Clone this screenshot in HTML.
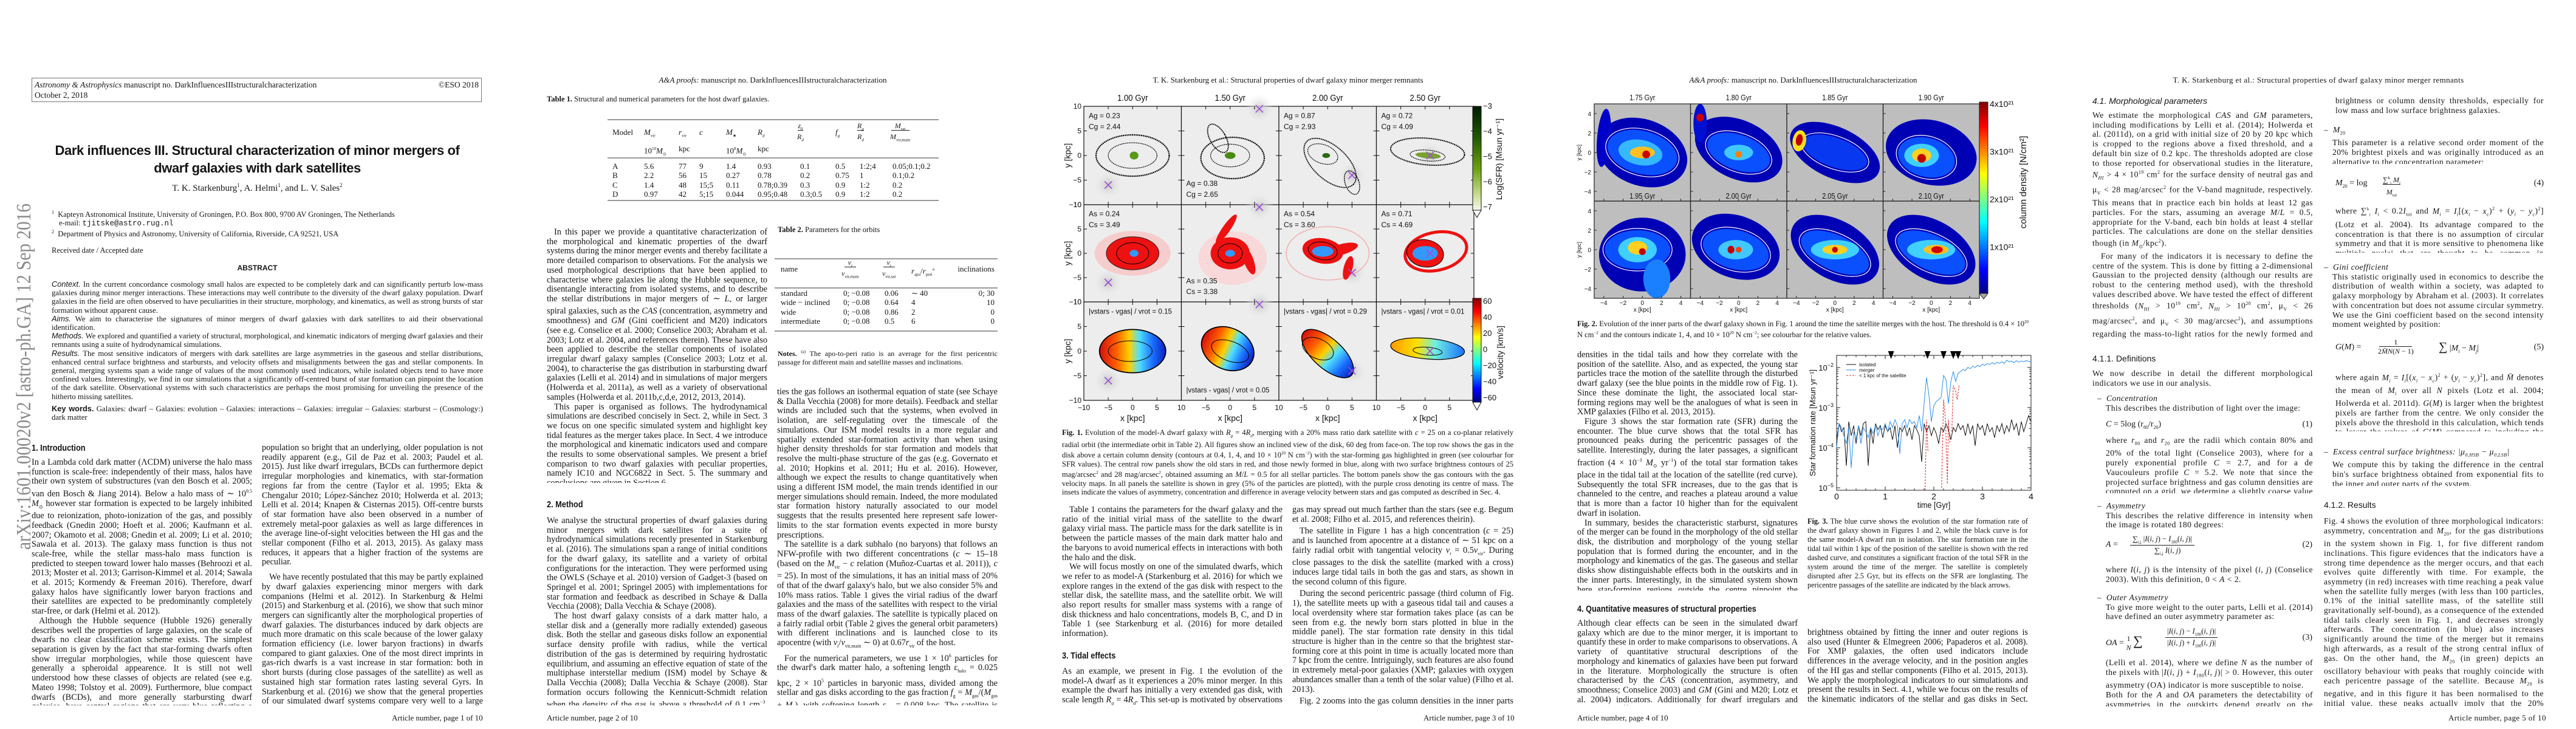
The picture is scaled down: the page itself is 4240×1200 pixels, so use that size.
<!DOCTYPE html>
<html lang="en"><head><meta charset="utf-8">
<style>
body{margin:0;width:4240px;height:1200px;background:#fff;position:relative;overflow:hidden;font-family:"Liberation Serif",serif;color:#151515}
.a{position:absolute}
.t{position:absolute;font-size:14.3px;line-height:15.7px;text-align:justify;overflow:hidden}
.t p{margin:0;text-indent:12px}
.t p.ni{text-indent:0}
.h{position:absolute;font-family:"Liberation Sans",sans-serif;font-weight:bold;font-size:15px;transform:scaleX(.85);transform-origin:left;white-space:nowrap}
.run{position:absolute;font-size:13px;text-align:center;width:848px;top:124px}
.foot{position:absolute;font-size:13px;top:1174px}
.cap{position:absolute;font-size:12.5px;line-height:14.4px;text-align:justify}
.p5{position:absolute;font-size:13.6px;line-height:15.7px;text-align:justify;letter-spacing:.45px;overflow:hidden}
.p5 p{margin:0;text-indent:14px}
.p5 .ni{text-indent:0}
.sh{position:absolute;font-family:"Liberation Sans",sans-serif;font-size:14px}
.eq{position:absolute;font-size:14px;font-style:italic}
.eqn{position:absolute;font-size:14px}
i{font-style:italic}
</style></head>
<body>
<svg id="figs" style="position:absolute;left:0;top:0" width="4240" height="1200" xmlns="http://www.w3.org/2000/svg">
<defs>
<linearGradient id="jetV" x1="0" y1="0" x2="0" y2="1"><stop offset="0" stop-color="#7f0000"/><stop offset=".125" stop-color="#ff0000"/><stop offset=".375" stop-color="#ffff00"/><stop offset=".625" stop-color="#00ffff"/><stop offset=".875" stop-color="#0000ff"/><stop offset="1" stop-color="#00007f"/></linearGradient>
<linearGradient id="velH" x1="0" y1="0" x2="1" y2="0"><stop offset="0" stop-color="#d01010"/><stop offset=".25" stop-color="#ff5a00"/><stop offset=".45" stop-color="#ffd000"/><stop offset=".6" stop-color="#50e0ff"/><stop offset=".8" stop-color="#1a70ff"/><stop offset="1" stop-color="#0a20c0"/></linearGradient>
<linearGradient id="velH2" x1="0" y1="0" x2="1" y2="0"><stop offset="0" stop-color="#ff9a00"/><stop offset=".35" stop-color="#ffe000"/><stop offset=".6" stop-color="#70f0e0"/><stop offset="1" stop-color="#1a70ff"/></linearGradient>
<linearGradient id="sfrV" x1="0" y1="0" x2="0" y2="1"><stop offset="0" stop-color="#001a00"/><stop offset=".3" stop-color="#1f5a00"/><stop offset=".6" stop-color="#6aa010"/><stop offset=".85" stop-color="#c8dc90"/><stop offset="1" stop-color="#f6f8ec"/></linearGradient>
<radialGradient id="satG"><stop offset="0" stop-color="#c8c8c8"/><stop offset="1" stop-color="#ececec" stop-opacity="0"/></radialGradient>
</defs>
</svg>

<!-- ============ PAGE 1 ============ -->
<svg style="position:absolute;left:0;top:330px" width="70" height="600"><text x="-575" y="50" transform="rotate(-90)" font-family="Liberation Serif" font-size="34" fill="#8a8a8a" textLength="570" lengthAdjust="spacingAndGlyphs">arXiv:1601.00020v2  [astro-ph.GA]  12 Sep 2016</text></svg>
<div style="position:absolute;left:52px;top:128px;width:741px;height:40px;border:1px solid #777;font-size:13.5px;line-height:17px;padding:2px 4px;box-sizing:border-box">
<span style="float:right">©ESO 2018</span><i>Astronomy &amp; Astrophysics</i> manuscript no. DarkInfluencesIIIstructuralcharacterization<br>October 2, 2018</div>
<div style="position:absolute;left:52px;top:233px;width:743px;text-align:center;font-family:'Liberation Sans',sans-serif;font-weight:bold;font-size:22px;line-height:29px;letter-spacing:-.4px">Dark influences III. Structural characterization of minor mergers of<br>dwarf galaxies with dark satellites</div>
<div style="position:absolute;left:52px;top:300px;width:743px;text-align:center;font-size:15px">T. K. Starkenburg<sup style="font-size:9px">1</sup>, A. Helmi<sup style="font-size:9px">1</sup>, and L. V. Sales<sup style="font-size:9px">2</sup></div>
<div style="position:absolute;left:85px;top:343px;font-size:12.5px;line-height:14px">
<div><sup style="font-size:8px">1</sup>&nbsp; Kapteyn Astronomical Institute, University of Groningen, P.O. Box 800, 9700 AV Groningen, The Netherlands</div>
<div style="padding-left:12px">e-mail: <span style="font-family:'Liberation Mono',monospace">tjitske@astro.rug.nl</span></div>
<div><sup style="font-size:8px">2</sup>&nbsp; Department of Physics and Astronomy, University of California, Riverside, CA 92521, USA</div>
<div style="margin-top:13px">Received date / Accepted date</div></div>
<div style="position:absolute;left:52px;top:434px;width:743px;text-align:center;font-family:'Liberation Sans',sans-serif;font-weight:bold;font-size:12px">ABSTRACT</div>
<div class="t" style="left:85px;top:461px;width:710px;font-size:12.8px;line-height:14.2px">
<p class="ni"><i style="font-family:'Liberation Sans'">Context.</i> In the current concordance cosmology small halos are expected to be completely dark and can significantly perturb low-mass galaxies during minor merger interactions. These interactions may well contribute to the diversity of the dwarf galaxy population. Dwarf galaxies in the field are often observed to have peculiarities in their structure, morphology, and kinematics, as well as strong bursts of star formation without apparent cause.</p>
<p class="ni"><i style="font-family:'Liberation Sans'">Aims.</i> We aim to characterise the signatures of minor mergers of dwarf galaxies with dark satellites to aid their observational identification.</p>
<p class="ni"><i style="font-family:'Liberation Sans'">Methods.</i> We explored and quantified a variety of structural, morphological, and kinematic indicators of merging dwarf galaxies and their remnants using a suite of hydrodynamical simulations.</p>
<p class="ni"><i style="font-family:'Liberation Sans'">Results.</i> The most sensitive indicators of mergers with dark satellites are large asymmetries in the gaseous and stellar distributions, enhanced central surface brightness and starbursts, and velocity offsets and misalignments between the gas and stellar components. In general, merging systems span a wide range of values of the most commonly used indicators, while isolated objects tend to have more confined values. Interestingly, we find in our simulations that a significantly off-centred burst of star formation can pinpoint the location of the dark satellite. Observational systems with such characteristics are perhaps the most promising for unveiling the presence of the hitherto missing satellites.</p>
<p class="ni" style="margin-top:6px"><b style="font-family:'Liberation Sans'">Key words.</b> Galaxies: dwarf – Galaxies: evolution – Galaxies: interactions – Galaxies: irregular – Galaxies: starburst – (Cosmology:) dark matter</p></div>
<div class="h" style="left:52px;top:729px">1. Introduction</div>
<div class="t" style="left:52px;top:754px;width:363px;height:407px">
<p class="ni">In a Lambda cold dark matter (ΛCDM) universe the halo mass function is scale-free: independently of their mass, halos have their own system of substructures (van den Bosch et al. 2005; van den Bosch &amp; Jiang 2014). Below a halo mass of ∼ 10<sup style="font-size:8px">9.5</sup> <i>M</i><sub style="font-size:8px">⊙</sub> however star formation is expected to be largely inhibited due to reionization, photo-ionization of the gas, and possibly feedback (Gnedin 2000; Hoeft et al. 2006; Kaufmann et al. 2007; Okamoto et al. 2008; Gnedin et al. 2009; Li et al. 2010; Sawala et al. 2013). The galaxy mass function is thus not scale-free, while the stellar mass-halo mass function is predicted to steepen toward lower halo masses (Behroozi et al. 2013; Moster et al. 2013; Garrison-Kimmel et al. 2014; Sawala et al. 2015; Kormendy &amp; Freeman 2016). Therefore, dwarf galaxy halos have significantly lower baryon fractions and their satellites are expected to be predominantly completely star-free, or dark (Helmi et al. 2012).</p>
<p>Although the Hubble sequence (Hubble 1926) generally describes well the properties of large galaxies, on the scale of dwarfs no clear classification scheme exists. The simplest separation is given by the fact that star-forming dwarfs often show irregular morphologies, while those quiescent have generally a spheroidal appearence. It is still not well understood how these classes of objects are related (see e.g. Mateo 1998; Tolstoy et al. 2009). Furthermore, blue compact dwarfs (BCDs), and more generally starbursting dwarf galaxies, have central regions that are very blue reflecting a centrally concentrated young stellar</p></div>
<div class="t" style="left:431px;top:730px;width:364px;height:431px">
<p class="ni">population so bright that an underlying, older population is not readily apparent (e.g., Gil de Paz et al. 2003; Paudel et al. 2015). Just like dwarf irregulars, BCDs can furthermore depict irregular morphologies and kinematics, with star-formation regions far from the centre (Taylor et al. 1995; Ekta &amp; Chengalur 2010; López-Sánchez 2010; Holwerda et al. 2013; Lelli et al. 2014; Knapen &amp; Cisternas 2015). Off-centre bursts of star formation have also been observed in a number of extremely metal-poor galaxies as well as large differences in the average line-of-sight velocities between the HI gas and the stellar component (Filho et al. 2013, 2015). As galaxy mass reduces, it appears that a higher fraction of the systems are peculiar.</p>
<p style="margin-top:9px">We have recently postulated that this may be partly explained by dwarf galaxies experiencing minor mergers with dark companions (Helmi et al. 2012). In Starkenburg &amp; Helmi (2015) and Starkenburg et al. (2016), we show that such minor mergers can significantly alter the morphological properties of dwarf galaxies. The disturbances induced by dark objects are much more dramatic on this scale because of the lower galaxy formation efficiency (i.e. lower baryon fractions) in dwarfs compared to giant galaxies. One of the most direct imprints in gas-rich dwarfs is a vast increase in star formation: both in short bursts (during close passages of the satellite) as well as sustained high star formation rates lasting several Gyrs. In Starkenburg et al. (2016) we show that the general properties of our simulated dwarf systems compare very well to a large sample of dwarf irregular galaxies and blue compact dwarfs from the literature.</p></div>
<div class="foot" style="left:645px">Article number, page 1 of 10</div>

<!-- ============ PAGE 2 ============ -->
<div class="run" style="left:848px"><i>A&amp;A proofs:</i> manuscript no. DarkInfluencesIIIstructuralcharacterization</div>
<div style="position:absolute;left:900px;top:156px;font-size:12.5px"><b>Table 1.</b> Structural and numerical parameters for the host dwarf galaxies.</div>
<div id="tab1" style="position:absolute;left:0;top:0"></div>
<div style="position:absolute;left:1280px;top:371px;font-size:12.5px"><b>Table 2.</b> Parameters for the orbits</div>
<div id="tab2" style="position:absolute;left:0;top:0"></div>
<div class="cap" style="left:1280px;top:572px;width:362px;font-size:12px"><b>Notes.</b> <sup style="font-size:7px">(a)</sup> The apo-to-peri ratio is an average for the first pericentric passage for different main and satellite masses and inclinations.</div>
<div class="t" style="left:900px;top:375px;width:363px;height:420px">
<p>In this paper we provide a quantitative characterization of the morphological and kinematic properties of the dwarf systems during the minor merger events and thereby facilitate a more detailed comparison to observations. For the analysis we used morphological descriptions that have been applied to characterise where galaxies lie along the Hubble sequence, to disentangle interacting from isolated systems, and to describe the stellar distributions in major mergers of ∼ <i>L</i><sub style="font-size:8px">*</sub> or larger spiral galaxies, such as the <i>CAS</i> (concentration, asymmetry and smoothness) and <i>GM</i> (Gini coefficient and M20) indicators (see e.g. Conselice et al. 2000; Conselice 2003; Abraham et al. 2003; Lotz et al. 2004, and references therein). These have also been applied to describe the stellar components of isolated irregular dwarf galaxy samples (Conselice 2003; Lotz et al. 2004), to characterise the gas distribution in starbursting dwarf galaxies (Lelli et al. 2014) and in simulations of major mergers (Holwerda et al. 2011a), as well as a variety of observational samples (Holwerda et al. 2011b,c,d,e, 2012, 2013, 2014).</p>
<p>This paper is organised as follows. The hydrodynamical simulations are described concisely in Sect. 2, while in Sect. 3 we focus on one specific simulated system and highlight key tidal features as the merger takes place. In Sect. 4 we introduce the morphological and kinematic indicators used and compare the results to some observational samples. We present a brief comparison to two dwarf galaxies with peculiar properties, namely IC10 and NGC6822 in Sect. 5. The summary and conclusions are given in Section 6.</p></div>
<div class="h" style="left:900px;top:822px">2. Method</div>
<div class="t" style="left:900px;top:850px;width:363px;height:311px">
<p class="ni">We analyse the structural properties of dwarf galaxies during minor mergers with dark satellites for a suite of hydrodynamical simulations recently presented in Starkenburg et al. (2016). The simulations span a range of initial conditions for the dwarf galaxy, its satellite and a variety of orbital configurations for the interaction. They were performed using the OWLS (Schaye et al. 2010) version of Gadget-3 (based on Springel et al. 2001; Springel 2005) with implementations for star formation and feedback as described in Schaye &amp; Dalla Vecchia (2008); Dalla Vecchia &amp; Schaye (2008).</p>
<p>The host dwarf galaxy consists of a dark matter halo, a stellar disk and a (generally more radially extended) gaseous disk. Both the stellar and gaseous disks follow an exponential surface density profile with radius, while the vertical distribution of the gas is determined by requiring hydrostatic equilibrium, and assuming an effective equation of state of the multiphase interstellar medium (ISM) model by Schaye &amp; Dalla Vecchia (2008); Dalla Vecchia &amp; Schaye (2008). Star formation occurs following the Kennicutt-Schmidt relation when the density of the gas is above a threshold of 0.1 cm<sup style="font-size:8px">−3</sup>, while at lower densi-</p></div>
<div class="t" style="left:1279px;top:638px;width:363px;height:523px">
<p class="ni">ties the gas follows an isothermal equation of state (see Schaye &amp; Dalla Vecchia (2008) for more details). Feedback and stellar winds are included such that the systems, when evolved in isolation, are self-regulating over the timescale of the simulations. Our ISM model results in a more regular and spatially extended star-formation activity than when using higher density thresholds for star formation and models that resolve the multi-phase structure of the gas (e.g. Governato et al. 2010; Hopkins et al. 2011; Hu et al. 2016). However, although we expect the results to change quantitatively when using a different ISM model, the main trends identified in our merger simulations should remain. Indeed, the more modulated star formation history naturally associated to our model suggests that the results presented here represent safe lower-limits to the star formation events expected in more bursty prescriptions.</p>
<p>The satellite is a dark subhalo (no baryons) that follows an NFW-profile with two different concentrations (<i>c</i> ∼ 15–18 (based on the <i>M</i><sub style="font-size:8px">vir</sub> − <i>c</i> relation (Muñoz-Cuartas et al. 2011)), <i>c</i> = 25). In most of the simulations, it has an initial mass of 20% of that of the dwarf galaxy's halo, but we also consider 5% and 10% mass ratios. Table 1 gives the virial radius of the dwarf galaxies and the mass of the satellites with respect to the virial mass of the dwarf galaxies. The satellite is typically placed on a fairly radial orbit (Table 2 gives the general orbit parameters) with different inclinations and is launched close to its apocentre (with <i>v<sub style="font-size:8px">t</sub></i>/<i>v</i><sub style="font-size:8px">vir,main</sub> ∼ 0) at 0.67<i>r</i><sub style="font-size:8px">vir</sub> of the host.</p>
<p>For the numerical parameters, we use 1 × 10<sup style="font-size:8px">6</sup> particles for the dwarf's dark matter halo, a softening length ε<sub style="font-size:8px">halo</sub> = 0.025 kpc, 2 × 10<sup style="font-size:8px">5</sup> particles in baryonic mass, divided among the stellar and gas disks according to the gas fraction <i>f</i><sub style="font-size:8px">g</sub> = <i>M</i><sub style="font-size:8px">gas</sub>/(<i>M</i><sub style="font-size:8px">gas</sub> + <i>M</i><sub style="font-size:8px">*</sub>), with softening length ε<sub style="font-size:8px">bar</sub> = 0.008 kpc. The satellite is modelled with 1 × 10<sup style="font-size:8px">5</sup> particles that have a softening length ε<sub style="font-size:8px">sat</sub> = 0.016 kpc.</p></div>
<div class="foot" style="left:900px">Article number, page 2 of 10</div>

<!-- ============ PAGE 3 ============ -->
<div class="run" style="left:1696px">T. K. Starkenburg et al.: Structural properties of dwarf galaxy minor merger remnants</div>
<div class="cap" style="left:1748px;top:705px;width:743px"><b>Fig. 1.</b> Evolution of the model-A dwarf galaxy with <i>R<sub style="font-size:7px">g</sub></i> = 4<i>R<sub style="font-size:7px">d</sub></i>, merging with a 20% mass ratio dark satellite with <i>c</i> = 25 on a co-planar relatively radial orbit (the intermediate orbit in Table 2). All figures show an inclined view of the disk, 60 deg from face-on. The top row shows the gas in the disk above a certain column density (contours at 0.4, 1, 4, and 10 × 10<sup style="font-size:7px">20</sup> N cm<sup style="font-size:7px">−2</sup>) with the star-forming gas highlighted in green (see colourbar for SFR values). The central row panels show the old stars in red, and those newly formed in blue, along with two surface brightness contours of 25 mag/arcsec<sup style="font-size:7px">2</sup> and 28 mag/arcsec<sup style="font-size:7px">2</sup>, obtained assuming an <i>M</i>/<i>L</i> = 0.5 for all stellar particles. The bottom panels show the gas contours with the gas velocity maps. In all panels the satellite is shown in grey (5% of the particles are plotted), with the purple cross denoting its centre of mass. The insets indicate the values of asymmetry, concentration and difference in average velocity between stars and gas computed as described in Sec. 4.</div>
<div class="t" style="left:1748px;top:832px;width:363px;height:235px">
<p>Table 1 contains the parameters for the dwarf galaxy and the ratio of the initial virial mass of the satellite to the dwarf galaxy virial mass. The particle mass for the dark satellite is in between the particle masses of the main dark matter halo and the baryons to avoid numerical effects in interactions with both the halo and the disk.</p>
<p>We will focus mostly on one of the simulated dwarfs, which we refer to as model-A (Starkenburg et al. 2016) for which we explore ranges in the extend of the gas disk with respect to the stellar disk, the satellite mass, and the satellite orbit. We will also report results for smaller mass systems with a range of disk thickness and halo concentrations, models B, C, and D in Table 1 (see Starkenburg et al. (2016) for more detailed information).</p></div>
<div class="h" style="left:1748px;top:1071px">3. Tidal effects</div>
<div class="t" style="left:1748px;top:1098px;width:363px;height:63px">
<p class="ni">As an example, we present in Fig. 1 the evolution of the model-A dwarf as it experiences a 20% minor merger. In this example the dwarf has initially a very extended gas disk, with scale length <i>R<sub style="font-size:8px">g</sub></i> = 4<i>R<sub style="font-size:8px">d</sub></i>. This set-up is motivated by observations showing that</p></div>
<div class="t" style="left:2127px;top:832px;width:364px;height:329px">
<p class="ni">gas may spread out much farther than the stars (see e.g. Begum et al. 2008; Filho et al. 2015, and references theirin).</p>
<p style="margin-top:4px">The satellite in Figure 1 has a high concentration (<i>c</i> = 25) and is launched from apocentre at a distance of ∼ 51 kpc on a fairly radial orbit with tangential velocity <i>v<sub style="font-size:8px">t</sub></i> = 0.5<i>v</i><sub style="font-size:8px">vir</sub>. During close passages to the disk the satellite (marked with a cross) induces large tidal tails in both the gas and stars, as shown in the second column of this figure.</p>
<p style="margin-top:4px">During the second pericentric passage (third column of Fig. 1), the satellite meets up with a gaseous tidal tail and causes a local overdensity where star formation takes place (as can be seen from e.g. the newly born stars plotted in blue in the middle panel). The star formation rate density in this tidal structure is higher than in the centre so that the brightest star-forming core at this point in time is actually located more than 7 kpc from the centre. Intriguingly, such features are also found in extremely metal-poor galaxies (XMP; galaxies with oxygen abundances smaller than a tenth of the solar value) (Filho et al. 2013).</p>
<p style="margin-top:4px">Fig. 2 zooms into the gas column densities in the inner parts of the dwarf galaxy around this time. Note again the high gas</p></div>
<div class="foot" style="left:2343px">Article number, page 3 of 10</div>

<!-- ============ PAGE 4 ============ -->
<div class="run" style="left:2544px"><i>A&amp;A proofs:</i> manuscript no. DarkInfluencesIIIstructuralcharacterization</div>
<div class="cap" style="left:2596px;top:523px;width:743px"><b>Fig. 2.</b> Evolution of the inner parts of the dwarf galaxy shown in Fig. 1 around the time the satellite merges with the host. The threshold is 0.4 × 10<sup style="font-size:7px">20</sup> N cm<sup style="font-size:7px">−2</sup> and the contours indicate 1, 4, and 10 × 10<sup style="font-size:7px">20</sup> N cm<sup style="font-size:7px">−2</sup>; see colourbar for the relative values.</div>
<div class="t" style="left:2596px;top:577px;width:363px;height:395px">
<p class="ni">densities in the tidal tails and how they correlate with the position of the satellite. Also, and as expected, the young star particles trace the motion of the satellite through the disturbed dwarf galaxy (see the blue points in the middle row of Fig. 1). Since these dominate the light, the associated local star-forming regions may well be the analogues of what is seen in XMP galaxies (Filho et al. 2013, 2015).</p>
<p>Figure 3 shows the star formation rate (SFR) during the encounter. The blue curve shows that the total SFR has pronounced peaks during the pericentric passages of the satellite. Interestingly, during the later passages, a significant fraction (4 × 10<sup style="font-size:8px">−3</sup> <i>M</i><sub style="font-size:8px">⊙</sub> yr<sup style="font-size:8px">−1</sup>) of the total star formation takes place in the tidal tail at the location of the satellite (red curve). Subsequently the total SFR increases, due to the gas that is channeled to the centre, and reaches a plateau around a value that is more than a factor 10 higher than for the equivalent dwarf in isolation.</p>
<p>In summary, besides the characteristic starburst, signatures of the merger can be found in the morphology of the old stellar disk, the distribution and morphology of the young stellar population that is formed during the encounter, and in the morphology and kinematics of the gas. The gaseous and stellar disks show distinguishable effects both in the outskirts and in the inner parts. Interestingly, in the simulated system shown here star-forming regions outside the centre pinpoint the location of the merging dark satellite.</p></div>
<div class="cap" style="left:2975px;top:851px;width:363px;font-size:12.2px;line-height:15px"><b>Fig. 3.</b> The blue curve shows the evolution of the star formation rate of the dwarf galaxy shown in Figures 1 and 2, while the black curve is for the same model-A dwarf run in isolation. The star formation rate in the tidal tail within 1 kpc of the position of the satellite is shown with the red dashed curve, and constitutes a significant fraction of the total SFR in the system around the time of the merger. The satellite is completely disrupted after 2.5 Gyr, but its effects on the SFR are longlasting. The pericentre passages of the satellite are indicated by the black arrows.</div>
<div class="h" style="left:2596px;top:994px">4. Quantitative measures of structural properties</div>
<div class="t" style="left:2596px;top:1019px;width:363px;height:142px">
<p class="ni">Although clear effects can be seen in the simulated dwarf galaxy which are due to the minor merger, it is important to quantify these in order to make comparisons to observations. A variety of quantitative structural descriptions of the morphology and kinematics of galaxies have been put forward in the literature. Morphologically the structure is often characterised by the <i>CAS</i> (concentration, asymmetry, and smoothness; Conselice 2003) and <i>GM</i> (Gini and M20; Lotz et al. 2004) indicators. Additionally for dwarf irregulars and BCDs, the difference in central surface</p></div>
<div class="t" style="left:2975px;top:1034px;width:363px;height:127px">
<p class="ni">brightness obtained by fitting the inner and outer regions is also used (Hunter &amp; Elmegreen 2006; Papaderos et al. 2008). For XMP galaxies, the often used indicators include differences in the average velocity, and in the position angles of the HI gas and stellar components (Filho et al. 2015, 2013). We apply the morphological indicators to our simulations and present the results in Sect. 4.1, while we focus on the results of the kinematic indicators of the stellar and gas disks in Sect. 4.2.</p></div>
<div class="foot" style="left:2596px">Article number, page 4 of 10</div>

<!-- ============ PAGE 5 ============ -->
<div class="run" style="left:3392px;letter-spacing:.4px">T. K. Starkenburg et al.: Structural properties of dwarf galaxy minor merger remnants</div>
<div class="sh" style="left:3444px;top:158px;font-style:italic">4.1. Morphological parameters</div>
<div class="p5" style="left:3444px;top:182px;width:363px;height:376px">
<p class="ni">We estimate the morphological <i>CAS</i> and <i>GM</i> parameters, including modifications by Lelli et al. (2014); Holwerda et al. (2011d), on a grid with initial size of 20 by 20 kpc which is cropped to the regions above a fixed threshold, and a default bin size of 0.2 kpc. The thresholds adopted are close to those reported for observational studies in the literature, <i>N<sub style="font-size:8px">HI</sub></i> &gt; 4 × 10<sup style="font-size:8px">19</sup> cm<sup style="font-size:8px">2</sup> for the surface density of neutral gas and μ<sub style="font-size:8px">V</sub> &lt; 28 mag/arcsec<sup style="font-size:8px">2</sup> for the V-band magnitude, respectively. This means that in practice each bin holds at least 12 gas particles. For the stars, assuming an average <i>M</i>/<i>L</i> = 0.5, appropriate for the V-band, each bin holds at least 4 stellar particles. The calculations are done on the stellar densities though (in <i>M</i><sub style="font-size:8px">⊙</sub>/kpc<sup style="font-size:8px">2</sup>).</p>
<p>For many of the indicators it is necessary to define the centre of the system. This is done by fitting a 2-dimensional Gaussian to the projected density (although our results are robust to the centering method used), with the threshold values described above. We have tested the effect of different thresholds (<i>N<sub style="font-size:8px">HI</sub></i> &gt; 10<sup style="font-size:8px">19</sup> cm<sup style="font-size:8px">2</sup>, <i>N<sub style="font-size:8px">HI</sub></i> &gt; 10<sup style="font-size:8px">20</sup> cm<sup style="font-size:8px">2</sup>, μ<sub style="font-size:8px">V</sub> &lt; 26 mag/arcsec<sup style="font-size:8px">2</sup>, and μ<sub style="font-size:8px">V</sub> &lt; 30 mag/arcsec<sup style="font-size:8px">2</sup>), and assumptions regarding the mass-to-light ratios for the newly formed and original stellar populations, and found that when a sufficient area of the system is visible (as smaller systems can mostly disappear below the thresholds) the numerical values for the morphological parameters can change but the trends stay intact.</p></div>
<div class="sh" style="left:3444px;top:582px">4.1.1. Definitions</div>
<div class="p5" style="left:3444px;top:607px;width:363px;height:32px"><p class="ni">We now describe in detail the different morphological indicators we use in our analysis.</p></div>
<div class="p5" style="left:3452px;top:648px;width:355px;height:32px"><p class="ni">–&nbsp; <i>Concentration</i></p><p class="ni" style="padding-left:14px">This describes the distribution of light over the image:</p></div>
<div class="eqn" style="left:3466px;top:691px;width:340px"><i>C</i> = 5log (r<sub style="font-size:8px">80</sub>/r<sub style="font-size:8px">20</sub>)<span style="float:right">(1)</span></div>
<div class="p5" style="left:3466px;top:717px;width:341px;height:95px"><p class="ni">where <i>r</i><sub style="font-size:8px">80</sub> and <i>r</i><sub style="font-size:8px">20</sub> are the radii which contain 80% and 20% of the total light (Conselice 2003), where for a purely exponential profile <i>C</i> = 2.7, and for a de Vaucouleurs profile <i>C</i> = 5.2. We note that since the projected surface brightness and gas column densities are computed on a grid, we determine a slightly coarse value of <i>C</i>.</p></div>
<div class="p5" style="left:3452px;top:825px;width:355px;height:48px"><p class="ni">–&nbsp; <i>Asymmetry</i></p><p class="ni" style="padding-left:14px">This describes the relative difference in intensity when the image is rotated 180 degrees:</p></div>
<div class="eqn" style="left:3466px;top:880px;width:340px;height:36px"><span style="position:absolute;top:9px"><i>A</i> =</span><span style="position:absolute;left:40px;top:0;font-size:12.5px;border-bottom:1px solid #222;padding:0 4px">∑<sub style="font-size:7px">i,j</sub> |<i>I</i>(<i>i</i>, <i>j</i>) − <i>I</i><sub style="font-size:7px">180</sub>(<i>i</i>, <i>j</i>)|</span><span style="position:absolute;left:80px;top:19px;font-size:12.5px">∑<sub style="font-size:7px">i,j</sub> <i>I</i>(<i>i</i>, <i>j</i>)</span><span style="position:absolute;right:0;top:9px">(2)</span></div>
<div class="p5" style="left:3466px;top:930px;width:341px;height:32px"><p class="ni">where <i>I</i>(<i>i</i>, <i>j</i>) is the intensity of the pixel (<i>i</i>, <i>j</i>) (Conselice 2003). With this definition, 0 &lt; <i>A</i> &lt; 2.</p></div>
<div class="p5" style="left:3452px;top:976px;width:355px;height:48px"><p class="ni">–&nbsp; <i>Outer Asymmetry</i></p><p class="ni" style="padding-left:14px">To give more weight to the outer parts, Lelli et al. (2014) have defined an outer asymmetry parameter as:</p></div>
<div class="eqn" style="left:3466px;top:1032px;width:340px;height:40px"><span style="position:absolute;top:10px"><i>OA</i> = <span style="display:inline-block;vertical-align:middle;text-align:center;line-height:15px;font-size:12px">1<br><i>N</i></span> <span style="font-size:22px">∑</span></span><span style="position:absolute;left:98px;top:0;font-size:12.5px;border-bottom:1px solid #222;padding:0 3px">|<i>I</i>(<i>i</i>, <i>j</i>) − <i>I</i><sub style="font-size:7px">180</sub>(<i>i</i>, <i>j</i>)|</span><span style="position:absolute;left:98px;top:19px;font-size:12.5px;padding:0 3px">|<i>I</i>(<i>i</i>, <i>j</i>) + <i>I</i><sub style="font-size:7px">180</sub>(<i>i</i>, <i>j</i>)|</span><span style="position:absolute;right:0;top:10px">(3)</span></div>
<div class="p5" style="left:3466px;top:1083px;width:341px;height:80px"><p class="ni">(Lelli et al. 2014), where we define <i>N</i> as the number of the pixels with |<i>I</i>(<i>i</i>, <i>j</i>) + <i>I</i><sub style="font-size:8px">180</sub>(<i>i</i>, <i>j</i>)| &gt; 0. However, this outer asymmetry (OA) indicator is more susceptible to noise.</p><p class="ni">Both for the <i>A</i> and <i>OA</i> parameters the detectability of asymmetries in the outskirts depend greatly on the surface</p></div>
<div class="p5" style="left:3844px;top:158px;width:343px;height:32px"><p class="ni">brightness or column density thresholds, especially for low mass and low surface brightness galaxies.</p></div>
<div class="p5" style="left:3825px;top:206px;width:362px;height:64px"><p class="ni">–&nbsp; <i>M</i><sub style="font-size:8px">20</sub></p><p class="ni" style="padding-left:14px">This parameter is a relative second order moment of the 20% brightest pixels and was originally introduced as an alternative to the concentration parameter:</p></div>
<div class="eqn" style="left:3844px;top:286px;width:343px;height:36px"><span style="position:absolute;top:8px"><i>M</i><sub style="font-size:8px">20</sub> = log</span><span style="position:absolute;left:78px;top:0;font-size:12px;text-align:center;line-height:15px"><span style="border-bottom:1px solid #222">∑<sup style="font-size:7px">k</sup><sub style="font-size:7px">i</sub> <i>M<sub style="font-size:7px">i</sub></i></span><br><i>M</i><sub style="font-size:7px">tot</sub></span><span style="position:absolute;right:0;top:8px">(4)</span></div>
<div class="p5" style="left:3844px;top:336px;width:343px;height:80px"><p class="ni">where ∑<sup style="font-size:7px">k</sup><sub style="font-size:7px">i</sub> <i>I<sub style="font-size:8px">i</sub></i> &lt; 0.2<i>I</i><sub style="font-size:8px">tot</sub> and <i>M<sub style="font-size:8px">i</sub></i> = <i>I<sub style="font-size:8px">i</sub></i>[(<i>x<sub style="font-size:8px">i</sub></i> − <i>x<sub style="font-size:8px">c</sub></i>)<sup style="font-size:8px">2</sup> + (<i>y<sub style="font-size:8px">i</sub></i> − <i>y<sub style="font-size:8px">c</sub></i>)<sup style="font-size:8px">2</sup>] (Lotz et al. 2004). Its advantage compared to the concentration is that there is no assumption of circular symmetry and that it is more sensitive to phenomena like multiple nuclei that are thought to be common in merging, or post-merging, systems.</p></div>
<div class="p5" style="left:3825px;top:432px;width:362px;height:112px"><p class="ni">–&nbsp; <i>Gini coefficient</i></p><p class="ni" style="padding-left:14px">This statistic originally used in economics to describe the distribution of wealth within a society, was adapted to galaxy morphology by Abraham et al. (2003). It correlates with concentration but does not assume circular symmetry. We use the Gini coefficient based on the second intensity moment weighted by position:</p></div>
<div class="eqn" style="left:3844px;top:556px;width:343px;height:36px"><span style="position:absolute;top:8px"><i>G</i>(<i>M</i>) =</span><span style="position:absolute;left:70px;top:0;font-size:12px;text-align:center;line-height:15px"><span style="border-bottom:1px solid #222;padding:0 24px">1</span><br>2<i>M̄N</i>(<i>N</i> − 1)</span><span style="position:absolute;left:170px;top:4px"><span style="font-size:20px">∑</span> |<i>M<sub style="font-size:8px">i</sub></i> − <i>M<sub style="font-size:8px">j</sub></i>|</span><span style="position:absolute;right:0;top:8px">(5)</span></div>
<div class="p5" style="left:3844px;top:610px;width:343px;height:100px"><p class="ni">where again <i>M<sub style="font-size:8px">i</sub></i> = <i>I<sub style="font-size:8px">i</sub></i>[(<i>x<sub style="font-size:8px">i</sub></i> − <i>x<sub style="font-size:8px">c</sub></i>)<sup style="font-size:8px">2</sup> + (<i>y<sub style="font-size:8px">i</sub></i> − <i>y<sub style="font-size:8px">c</sub></i>)<sup style="font-size:8px">2</sup>], and <i>M̄</i> denotes the mean of <i>M<sub style="font-size:8px">i</sub></i> over all <i>N</i> pixels (Lotz et al. 2004; Holwerda et al. 2011d). <i>G</i>(<i>M</i>) is larger when the brightest pixels are farther from the centre. We only consider the pixels above the threshold in this calculation, which tends to lower the values of <i>G</i>(<i>M</i>) compared to including the background pixels.</p></div>
<div class="p5" style="left:3825px;top:736px;width:362px;height:64px"><p class="ni">–&nbsp; <i>Excess central surface brightness: |μ<sub style="font-size:8px">0,HSB</sub> − μ<sub style="font-size:8px">0,LSB</sub>|</i></p><p class="ni" style="padding-left:14px">We compute this by taking the difference in the central bin's surface brightness obtained from exponential fits to the inner and outer parts of the system.</p></div>
<div class="sh" style="left:3825px;top:823px">4.1.2. Results</div>
<div class="p5" style="left:3825px;top:850px;width:362px;height:312px"><p class="ni">Fig. 4 shows the evolution of three morphological indicators: asymmetry, concentration and <i>M</i><sub style="font-size:8px">20</sub>, for the gas distributions in the system shown in Fig. 1, for five different random inclinations. This figure evidences that the indicators have a strong time dependence as the merger occurs, and that each evolves quite differently with time. For example, the asymmetry (in red) increases with time reaching a peak value when the satellite fully merges (with less than 100 particles, 0.1% of the initial satellite mass, of the satellite still gravitationally self-bound), as a consequence of the extended tidal tails clearly seen in Fig. 1, and decreases strongly afterwards. The concentration (in blue) also increases significantly around the time of the merger but it remains high afterwards, as a result of the strong central influx of gas. On the other hand, the <i>M</i><sub style="font-size:8px">20</sub> (in green) depicts an oscillatory behaviour with peaks that roughly coincide with each pericentre passage of the satellite. Because <i>M</i><sub style="font-size:8px">20</sub> is negative, and in this figure it has been normalised to the initial value, these peaks actually imply that the 20% brightest pixels are more centrally concentrated, with the dips indicating high gas densities at larger radii, suggesting that star formation occurs at larger distances.</p></div>
<div class="foot" style="left:4030px;letter-spacing:.4px">Article number, page 5 of 10</div>

<script>
// ================= Fig 3 data (star formation rate, log10 Msun/yr) =================
const sfrTime = [0,0.05,0.1,0.15,0.2,0.25,0.3,0.35,0.4,0.45,0.5,0.55,0.6,0.65,0.7,0.75,0.8,0.85,0.9,0.95,1.0,1.05,1.1,1.15,1.2,1.25,1.3,1.35,1.4,1.45,1.5,1.55,1.6,1.65,1.7,1.75,1.8,1.85,1.9,1.95,2.0,2.05,2.1,2.15,2.2,2.25,2.3,2.35,2.4,2.45,2.5,2.55,2.6,2.65,2.7,2.75,2.8,2.85,2.9,2.95,3.0,3.05,3.1,3.15,3.2,3.25,3.3,3.35,3.4,3.45,3.5,3.55,3.6,3.65,3.7,3.75,3.8,3.85,3.9,3.95,4.0];
const sfrIsolated = [-3.8,-3.4,-3.6,-3.5,-4.45,-3.35,-3.7,-3.45,-3.9,-3.45,-3.7,-3.4,-3.35,-4.45,-3.5,-3.9,-3.4,-3.55,-3.45,-3.75,-3.45,-3.6,-3.5,-3.8,-3.45,-4.0,-3.5,-3.6,-3.45,-3.7,-3.5,-3.8,-3.45,-3.55,-3.7,-4.35,-3.4,-3.6,-3.45,-3.7,-3.5,-3.65,-3.9,-3.5,-3.6,-3.4,-3.55,-3.8,-3.5,-3.6,-3.4,-3.55,-3.45,-3.7,-3.4,-3.65,-3.45,-3.95,-3.4,-3.55,-3.45,-3.7,-3.4,-3.6,-3.5,-3.75,-3.45,-3.6,-3.4,-3.65,-3.45,-3.6,-3.3,-3.55,-3.4,-3.7,-3.35,-3.6,-3.4,-3.2,-3.35];
const sfrMerger = [-4.0,-3.4,-3.5,-3.7,-3.9,-3.5,-4.5,-3.6,-3.8,-3.45,-3.9,-3.5,-3.6,-3.75,-3.5,-3.65,-3.45,-3.7,-3.5,-3.55,-3.4,-3.6,-3.35,-3.5,-3.3,-3.45,-4.15,-3.4,-3.3,-3.5,-3.3,-3.4,-3.35,-3.5,-3.2,-3.6,-2.9,-2.25,-2.7,-3.35,-2.95,-2.85,-2.8,-2.75,-2.2,-2.3,-2.9,-2.35,-2.1,-2.35,-2.15,-2.1,-2.05,-2.08,-2.0,-2.03,-1.97,-2.0,-1.95,-1.98,-1.92,-1.95,-1.9,-1.93,-1.88,-1.92,-1.87,-1.9,-1.86,-1.9,-1.82,-1.86,-1.84,-1.88,-1.83,-1.87,-1.84,-1.86,-1.83,-1.85,-1.86];
const satTime = [1.82,1.85,1.88,null,2.16,2.2,2.24,2.28,2.3,2.33,null,2.37,2.4,2.45,2.48,2.52];
const satSfr  = [-5.1,-3.3,-4.1,null,-5.0,-2.8,-3.3,-4.9,-3.3,-3.9,null,-3.6,-2.45,-2.6,-2.8,-2.45];
const pericentreTimes = [1.12,1.87,2.2,2.4,2.5];
const xTickLabels = ['0','1','2','3','4'];
const yTickExps = [-2,-3,-4,-5];
const legendLabels = ['isolated','merger','< 1 kpc of the satellite'];

// ================= Fig 1 / Fig 2 morphology descriptors =================
const fig1Times = ['1.00 Gyr','1.50 Gyr','2.00 Gyr','2.50 Gyr'];
const fig1Gas = ['Ag = 0.23|Cg = 2.44|t','Ag = 0.38|Cg = 2.65|b','Ag = 0.87|Cg = 2.93|t','Ag = 0.72|Cg = 4.09|t'];
const fig1Stars = ['As = 0.24|Cs = 3.49|t','As = 0.35|Cs = 3.38|b','As = 0.54|Cs = 3.60|t','As = 0.71|Cs = 4.69|t'];
const fig1Vel = ['0.15|t','0.05|b','0.29|t','0.01|t'];
const fig1SatX = [-5,6,5,1];
const fig1SatY = [-6,9.5,-4,0];
const fig2Times = ['1.75 Gyr','1.80 Gyr','1.85 Gyr','1.90 Gyr','1.95 Gyr','2.00 Gyr','2.05 Gyr','2.10 Gyr'];

const NS='http://www.w3.org/2000/svg';
const svg=document.getElementById('figs');
function mk(tag,attrs,parent){const e=document.createElementNS(NS,tag);for(const k in attrs)e.setAttribute(k,attrs[k]);(parent||svg).appendChild(e);return e;}
function txt(x,y,s,size,anchor,parent,extra){const e=mk('text',Object.assign({x:x,y:y,'font-family':'Liberation Sans, sans-serif','font-size':size,'text-anchor':anchor||'start',fill:'#111'},extra||{}),parent);e.textContent=s;return e;}

// ---------------- FIG 1 ----------------
const f1X0=1784,f1W=160.5,f1Top=[175,337,497],f1H=[162,160,162];
function f1x(c,x){return f1X0+c*f1W+(x+10)/20*f1W}
function f1y(r,y){return f1Top[r]+(10-y)/20*f1H[r]}
function f1rx(v){return v/20*f1W}
function f1ry(r,v){return v/20*f1H[r]}
const f1Shapes=[
[0,0,'c',0,0,7.5,4.2,0,'none','#000',2.2],[0,0,'c',0,0,5,2.6,0,'none','#000',1.2],[0,0,'f',0.3,0,0.9,0.8,0,'#5a9a1a'],
[0,1,'c',0.5,-0.5,6.5,4.2,0,'none','#000',2.2],[0,1,'c',-2.5,3.5,1.6,3.2,-30,'none','#000',1.8],[0,1,'c',0,0,4,2.3,0,'none','#000',1.2],[0,1,'f',0,0,1.1,0.7,0,'#4a8a14'],
[0,2,'c',0.5,-1.5,6.5,3.4,42,'none','#000',1.8],[0,2,'c',-1,0.3,3.2,1.9,20,'none','#000',1.2],[0,2,'c',5,-5.5,1.4,2.5,-20,'none','#000',1.5],[0,2,'f',-0.3,0,0.8,0.5,0,'#2a6a10'],
[0,3,'c',0.5,0.8,7.6,2.7,5,'none','#000',2],[0,3,'c',0.5,0,3.6,1.1,5,'none','#000',1.2],[0,3,'f',0.6,0,2.6,0.6,5,'#7aa030'],
[1,0,'f',0,0,7.8,4.6,0,'#f6cccc'],[1,0,'f',0,0,5.4,3.4,0,'#ee1111'],[1,0,'c',0,0,5.4,3.4,0,'none','#222',1],[1,0,'c',0,0,3.3,2.2,0,'none','#000',1],[1,0,'f',0.3,0,0.9,0.7,0,'#3399ff'],
[1,1,'f',0.5,-1,7,5.5,0,'#f8d8d8'],[1,1,'f',0,0,4,3.3,0,'#ee1111'],[1,1,'f',-0.8,5,0.8,3.6,35,'#ee1111'],[1,1,'f',3.8,-1.5,1,3,-20,'#ee1111'],[1,1,'c',0,0,2.5,2,0,'none','#000',1],[1,1,'f',0,0,1,0.7,0,'#3399ff'],
[1,2,'r',0,0,8.5,5.5,0,'none','#f2b0b0',1.5],[1,2,'f',-1,0.5,4.2,2.6,10,'#ee1111'],[1,2,'f',2.8,0.8,3.5,1.1,-15,'#ee1111'],[1,2,'f',4.2,-3,0.9,2.5,15,'#ee1111'],[1,2,'c',-1,0.5,3,1.8,10,'none','#000',1],[1,2,'f',-1,0.4,2.2,1.1,0,'#3399ff'],
[1,3,'r',2.2,0.4,6.4,3.9,-12,'none','#ee1111',5],[1,3,'f',0,0,3.8,2.8,10,'#ee1111'],[1,3,'c',0,0,3.8,2.8,10,'none','#000',1],[1,3,'f',0,0,2.6,1.5,0,'#3399ff'],
[2,0,'g',0,0,6.8,4.4,0,'url(#velH)'],[2,0,'c',0,0,6.8,4.4,0,'none','#000',1.8],[2,0,'c',-0.5,0,4.5,2.1,0,'none','#000',1],
[2,1,'g',-0.5,0.5,5.6,4.2,25,'url(#velH)'],[2,1,'c',-0.5,0.5,5.6,4.2,25,'none','#000',1.8],[2,1,'c',0,0,4,2,20,'none','#000',1],
[2,2,'g',0,-0.5,6.6,3,42,'url(#velH)'],[2,2,'c',0,-0.5,6.6,3,42,'none','#000',1.5],[2,2,'c',-2,0.5,3.4,2,25,'none','#000',1],
[2,3,'g',0.5,0.5,7.6,2.1,5,'url(#velH2)'],[2,3,'c',0.5,0.5,7.6,2.1,5,'none','#000',1.2],[2,3,'c',0.5,0,3,0.8,5,'none','#000',1]
];
for(let r=0;r<3;r++)for(let c=0;c<4;c++){
  const bg=mk('rect',{x:f1X0+c*f1W,y:f1Top[r],width:f1W,height:f1H[r],fill:'#ededed',stroke:'#111','stroke-width':1.2});
  
  
  const sat=mk('ellipse',{cx:f1x(c,fig1SatX[c]),cy:f1y(r,fig1SatY[c]),rx:f1rx(3),ry:f1ry(r,3),fill:'url(#satG)'});
  
  
}
f1Shapes.forEach(s=>{
  const [r,c,k,cx,cy,rx,ry,rot,fill,stroke,sw]=s;
  const X=f1x(c,cx),Y=f1y(r,cy);
  const e=mk('ellipse',{cx:X,cy:Y,rx:f1rx(rx),ry:f1ry(r,ry),transform:'rotate('+rot+' '+X+' '+Y+')',fill:fill,stroke:stroke||'none','stroke-width':sw||0});
  if(k==='c'&&r===0)e.setAttribute('stroke-dasharray','2 1');
  
  
});
for(let r=0;r<3;r++)for(let c=0;c<4;c++){
  const X=f1x(c,fig1SatX[c]),Y=f1y(r,fig1SatY[c]);
  const cr=mk('path',{d:`M${X-6} ${Y-6}L${X+6} ${Y+6}M${X+6} ${Y-6}L${X-6} ${Y+6}`,stroke:'#9a4fd6','stroke-width':1.6,fill:'none'});
  
  
  for(let v=-10;v<=10;v+=5){
    const tx=f1x(c,v),ty=f1y(r,v);
    const t1=mk('path',{d:`M${tx} ${f1Top[r]+f1H[r]}v-5M${tx} ${f1Top[r]}v5M${f1X0+c*f1W} ${ty}h5M${f1X0+(c+1)*f1W} ${ty}h-5`,stroke:'#111','stroke-width':1});
    
    
  }
}
for(let c=0;c<4;c++){
  const tt=txt(f1x(c,0),166,fig1Times[c],15,'middle',null,{transform:`translate(${f1x(c,0)} 0) scale(0.88 1) translate(${-f1x(c,0)} 0)`});
  
  
  [[0,fig1Gas[c]],[1,fig1Stars[c]]].forEach(([r,s])=>{
    const p=s.split('|');const top=p[2]==='t';
    const a=txt(f1x(c,-9),f1y(r,top?7.6:-6.2),p[0],12,'start');
    
    
    const b=txt(f1x(c,-9),f1y(r,top?5.4:-8.4),p[1],12,'start');
    
    
  });
  const p=fig1Vel[c].split('|');
  const v=txt(f1x(c,-9),f1y(2,p[1]==='t'?7.6:-8.4),'|vstars - vgas| / vrot = '+p[0],11.5,'start',null,{textLength:137,lengthAdjust:'spacingAndGlyphs'});
  
  
}
for(let r=0;r<3;r++){
  [10,5,0,-5,-10].forEach(v=>{
    const l=txt(f1X0-4,f1y(r,v)+4,v===0?'0':String(v).replace('-','−'),12,'end');
    
    
  });
  const yl=txt(0,0,'y [kpc]',14,'middle',null,{transform:`translate(1762 ${f1Top[r]+f1H[r]/2}) rotate(-90)`});
  
  
}
for(let c=0;c<4;c++){
  (c===0?[-10,-5,0,5,10]:(c===3?[-5,0,5]:[-5,0,5,10])).forEach(v=>{
    const l=txt(f1x(c,v),675,String(v).replace('-','−'),12,'middle');
    
    
  });
  const xl=txt(f1x(c,0),693,'x [kpc]',14,'middle');
  
  
}
const cb1=mk('rect',{x:2424,y:175,width:14,height:171,fill:'url(#sfrV)',stroke:'#111','stroke-width':1});


const cb1t=mk('path',{d:'M2424 346L2431 358L2438 346Z',fill:'#fff',stroke:'#111'});


['−3','−4','−5','−6','−7'].forEach((s,i)=>{const l=txt(2441,179+i*41.5,s,13,'start');
  
  });
const cbl1=txt(0,0,'Log(SFR) [Msun yr⁻¹]',14,'middle',null,{transform:'translate(2472 262) rotate(-90)'});


const cb2=mk('rect',{x:2424,y:491,width:14,height:171,fill:'url(#jetV)',stroke:'#111','stroke-width':1});


const cb2t=mk('path',{d:'M2424 662L2431 675L2438 662Z',fill:'#fff',stroke:'#111'});


['60','40','20','0','−20','−40','−60'].forEach((s,i)=>{const l=txt(2441,500+i*26.5,s,13,'start');
  
  });
const cbl2=txt(0,0,'velocity [km/s]',14,'middle',null,{transform:'translate(2474 580) rotate(-90)'});



// ---------------- FIG 2 ----------------
const f2X0=2624,f2W=158.5,f2Top=[171,331],f2H=160;
function f2x(c,x){return f2X0+c*f2W+(x+5)/10*f2W}
function f2y(r,y){return f2Top[r]+(5-y)/10*f2H}
const f2Blobs=[
[0,0,0,4.8,3.4,20,'#0000b4'],[0,-4,1.5,0.7,3,5,'#0000c8'],[0,0,0,3.7,2.2,15,'#0a50ff'],[0,-0.2,0,2.3,1.3,10,'#35b8ff'],[0,0,0,1.3,0.6,0,'#ffc020'],[0,0.4,-0.2,0.4,0.4,0,'#d00000'],
[1,0,0.3,4.8,3,25,'#0000b4'],[1,-4,3,0.7,2,0,'#0010d0'],[1,0,0,3.4,1.8,20,'#0a50ff'],[1,0,0,1.5,0.8,0,'#40c8ff'],[1,0,-0.2,0.35,0.35,0,'#ff8000'],[1,-4,3.6,0.4,0.4,0,'#d00000'],
[2,0,0,5,2.6,25,'#0000b4'],[2,0,0,3.5,1.5,20,'#0838f0'],[2,-3.7,1.2,0.7,1.1,10,'#ffe020'],[2,-3.7,1.3,0.35,0.6,10,'#c00000'],
[3,0,0,4.8,3.3,15,'#0000b4'],[3,-0.5,-0.5,3,2,15,'#0a50ff'],[3,-1,-0.3,1.8,1.2,0,'#40d0ff'],[3,-1,-0.3,1,0.7,0,'#ffd020'],[3,-1,-0.6,0.45,0.45,0,'#c00000'],
[4,0,-0.5,4.5,3.8,0,'#0000b4'],[4,-0.5,0,3.4,2,0,'#0a50ff'],[4,1.5,-3,1.4,2,0,'#1a80ff'],[4,-0.5,0,2,1.3,0,'#40d0ff'],[4,-0.5,0.2,1,0.7,0,'#ffd020'],[4,0,-0.2,0.35,0.35,0,'#c00000'],
[5,-0.3,0.3,4.7,3.2,20,'#0000b4'],[5,-0.3,0,3.5,2,15,'#0a50ff'],[5,-0.3,0,1.8,1,0,'#40c8ff'],[5,-0.8,0,0.35,0.4,0,'#c00000'],[5,0,0,0.3,0.3,0,'#ff4000'],
[6,0,0,5,3,30,'#0000b4'],[6,0,-0.3,3.8,1.8,25,'#0a50ff'],[6,0,0,2.5,1,0,'#40d0ff'],[6,0,0,1.3,0.5,0,'#ffd020'],[6,0,0,0.3,0.3,0,'#c00000'],
[7,0,0,5,3,30,'#0000b4'],[7,0,-0.3,3.8,1.8,25,'#0a50ff'],[7,0,0,2.5,1,0,'#40d0ff'],[7,0.5,0,1.3,0.5,0,'#ffc020'],[7,0.6,0,0.6,0.35,0,'#d00000']
];
for(let i=0;i<8;i++){const r=Math.floor(i/4),c=i%4;
  const bg=mk('rect',{x:f2X0+c*f2W,y:f2Top[r],width:f2W,height:f2H,fill:'#bebebe'});
  
  
}
f2Blobs.forEach(b=>{const [i,cx,cy,rx,ry,rot,col]=b;const r=Math.floor(i/4),c=i%4;
  const X=f2x(c,cx),Y=f2y(r,cy);
  const e=mk('ellipse',{cx:X,cy:Y,rx:rx/10*f2W,ry:ry/10*f2H,fill:col,transform:`rotate(${rot} ${X} ${Y})`});
  
  
  if(col==='#0a50ff'||col==='#0838f0'){
    const w=mk('ellipse',{cx:X,cy:Y,rx:rx/10*f2W+3,ry:ry/10*f2H+3,fill:'none',stroke:'#fff','stroke-width':1.2,transform:`rotate(${rot} ${X} ${Y})`});
    
    
  }
});
for(let i=0;i<8;i++){const r=Math.floor(i/4),c=i%4;
  const fr=mk('rect',{x:f2X0+c*f2W,y:f2Top[r],width:f2W,height:f2H,fill:'none',stroke:'#222','stroke-width':1.2});
  
  
  const tt=txt(f2x(c,0),r===0?165:327,fig2Times[i],13,'middle',null,{transform:`translate(${f2x(c,0)} 0) scale(0.85 1) translate(${-f2x(c,0)} 0)`});
  
  
  [-4,-2,0,2,4].forEach(v=>{
    const tk=mk('path',{d:`M${f2x(c,v)} ${f2Top[r]+f2H}v-4M${f2X0+c*f2W} ${f2y(r,v)}h4`,stroke:'#222'});
    
    
  });
}
for(let r=0;r<2;r++){[4,2,0,-2,-4].forEach(v=>{const l=txt(2619,f2y(r,v)+4,String(v).replace('-','−'),10,'end');
  
  });
  const yl=txt(0,0,'y [kpc]',9,'middle',null,{transform:`translate(2602 ${f2Top[r]+80}) rotate(-90)`});
  
  
}
for(let c=0;c<4;c++){[-4,-2,0,2,4].forEach(v=>{const l=txt(f2x(c,v),502,String(v).replace('-','−'),10,'middle');
  
  });
  const xl=txt(f2x(c,0),513,'x [kpc]',10,'middle');
  
  
}
const cb3=mk('rect',{x:3258,y:168,width:14,height:315,fill:'url(#jetV)',stroke:'#222'});


const cb3t=mk('path',{d:'M3258 483L3265 492L3272 483Z',fill:'#aaa',stroke:'#222'});


['4x10²¹','3x10²¹','2x10²¹','1x10²¹'].forEach((s,i)=>{const l=txt(3275,176+i*78.5,s,14,'start');
  
  });
const cbl3=txt(0,0,'column density [N/cm²]',15,'middle',null,{transform:'translate(3335 300) rotate(-90)'});



// ---------------- FIG 3 ----------------
const ax={x0:3023,x1:3343,y0:585,y1:807,tmin:0,tmax:4,lmin:-5.06,lmax:-1.7};
function sx(t){return ax.x0+(t-ax.tmin)/(ax.tmax-ax.tmin)*(ax.x1-ax.x0)}
function sy(l){return ax.y1-(l-ax.lmin)/(ax.lmax-ax.lmin)*(ax.y1-ax.y0)}
function pathFrom(ts,vs){let d='',pen=false;for(let i=0;i<ts.length;i++){if(ts[i]===null){pen=false;continue;}
  const v=Math.max(vs[i],ax.lmin);d+=(pen?'L':'M')+sx(ts[i]).toFixed(1)+' '+sy(v).toFixed(1);pen=true;}return d;}
const fr3=mk('rect',{x:ax.x0,y:ax.y0,width:ax.x1-ax.x0,height:ax.y1-ax.y0,fill:'#fff',stroke:'#222','stroke-width':1});


for(let t=0;t<=4.001;t+=0.2){const major=Math.abs(t-Math.round(t))<1e-6;
  const tk=mk('path',{d:`M${sx(t)} ${ax.y1}v${major?-6:-3}M${sx(t)} ${ax.y0}v${major?6:3}`,stroke:'#222'});
  
  }
xTickLabels.forEach((s,i)=>{const l=txt(sx(i),822,s,14,'middle');
  
  });
const xt3=txt(sx(2),836,'time [Gyr]',14,'middle',null,{transform:`translate(${sx(2)} 0) scale(0.9 1) translate(${-sx(2)} 0)`});


for(let e=-5;e<=-2;e++){for(let m=1;m<10;m++){const l=e+Math.log10(m);if(l<ax.lmin||l>ax.lmax)continue;
  const tk=mk('path',{d:`M${ax.x0} ${sy(l)}h${m===1?6:3}M${ax.x1} ${sy(l)}h${m===1?-6:-3}`,stroke:'#222'});
  
  }}
yTickExps.forEach(e=>{const l=mk('text',{x:ax.x0-5,y:sy(e)+5,'font-family':'Liberation Sans, sans-serif','font-size':13,'text-anchor':'end',fill:'#111'});
  l.innerHTML='10<tspan dy="-6" font-size="9">'+e.toString().replace('-','−')+'</tspan>';
  
  });
const yt3=txt(0,0,'Star formation rate [Msun yr⁻¹]',13,'middle',null,{transform:`translate(2988 ${(ax.y0+ax.y1)/2}) rotate(-90)`});


const lineIso=mk('path',{d:pathFrom(sfrTime,sfrIsolated),fill:'none',stroke:'#111','stroke-width':1});


const lineMer=mk('path',{d:pathFrom(sfrTime,sfrMerger),fill:'none',stroke:'#2a8ff0','stroke-width':1});


const lineSat=mk('path',{d:pathFrom(satTime,satSfr),fill:'none',stroke:'#e03030','stroke-width':1.1,'stroke-dasharray':'3 2'});


pericentreTimes.forEach(t=>{const X=sx(t);
  const a=mk('path',{d:`M${X-5} ${ax.y0-7}L${X+5} ${ax.y0-7}L${X} ${ax.y0+6}Z`,fill:'#000'});
  
  });
const legCols=['#111','#2a8ff0','#e03030'];
legendLabels.forEach((s,i)=>{const y=ax.y0+15+i*9;
  const ln=mk('path',{d:`M${ax.x0+16} ${y}h16`,stroke:legCols[i],'stroke-width':1,'stroke-dasharray':i===2?'3 2':'none'});
  
  
  const lt=txt(ax.x0+37,y+3,s,8,'start');
  
  });

// ---------------- TABLES ----------------
function cell(parentId,x,y,html,size,anchor){const d=document.createElement('div');
  d.style.cssText=`position:absolute;left:${x}px;top:${y}px;font-size:${size||13}px;white-space:nowrap;line-height:14px;`+(anchor==='r'?'transform:translateX(-100%)':'');
  d.innerHTML=html;document.getElementById(parentId).appendChild(d);
  
  }
const t1ColX=[1008,1060,1117,1151,1195,1247,1317,1375,1415,1469];
const t1Head=['Model','<i>M</i><sub style="font-size:7px">vir</sub>','<i>r</i><sub style="font-size:7px">vir</sub>','<i>c</i>','<i>M</i><sub style="font-size:7px">★</sub>','<i>R<sub style="font-size:7px">d</sub></i>','','<i>f<sub style="font-size:7px">g</sub></i>','',''];
const t1Units=['','10<sup style="font-size:7px">10</sup><i>M</i><sub style="font-size:7px">⊙</sub>','kpc','','10<sup style="font-size:7px">8</sup><i>M</i><sub style="font-size:7px">⊙</sub>','kpc','','','',''];
const t1Rows=[['A','5.6','77','9','1.4','0.93','0.1','0.5','1:2;4','0.05;0.1;0.2'],['B','2.2','56','15','0.27','0.78','0.2','0.75','1','0.1;0.2'],['C','1.4','48','15;5','0.11','0.78;0.39','0.3','0.9','1:2','0.2'],['D','0.97','42','5;15','0.044','0.95;0.48','0.3;0.5','0.9','1:2','0.2']];
t1Head.forEach((h,i)=>{if(h)cell('tab1',t1ColX[i],211,h);});
t1Units.forEach((h,i)=>{if(h)cell('tab1',t1ColX[i],238,h);});
cell('tab1',1312,201,'<span style="display:inline-block;text-align:center;line-height:13px"><span style="border-bottom:1px solid #222"><i>z</i><sub style="font-size:7px">0</sub></span><br><i>R<sub style="font-size:7px">d</sub></i></span>',12);
cell('tab1',1411,201,'<span style="display:inline-block;text-align:center;line-height:13px"><span style="border-bottom:1px solid #222"><i>R<sub style="font-size:7px">g</sub></i></span><br><i>R<sub style="font-size:7px">d</sub></i></span>',12);
cell('tab1',1465,201,'<span style="display:inline-block;text-align:center;line-height:13px"><span style="border-bottom:1px solid #222;padding:0 6px"><i>M</i><sub style="font-size:7px">sat</sub></span><br><i>M</i><sub style="font-size:7px">vir,main</sub></span>',12);
t1Rows.forEach((row,ri)=>row.forEach((v,ci)=>cell('tab1',t1ColX[ci],267+ri*15.3,v)));
const t2ColX=[1285,1388,1456,1500,1637];
const t2Rows=[['standard','0; −0.08','0.06','∼ 40','0; 30'],['wide − inclined','0; −0.08','0.64','4','10'],['wide','0; −0.08','0.86','2','0'],['intermediate','0; −0.08','0.5','6','0']];
cell('tab2',1285,436,'name');
cell('tab2',1385,426,'<span style="display:inline-block;text-align:center;line-height:13px"><span style="border-bottom:1px solid #222;padding:0 6px"><i>v<sub style="font-size:7px">t</sub></i></span><br><i>v</i><sub style="font-size:7px">vir,main</sub></span>',12);
cell('tab2',1452,426,'<span style="display:inline-block;text-align:center;line-height:13px"><span style="border-bottom:1px solid #222;padding:0 6px"><i>v<sub style="font-size:7px">t</sub></i></span><br><i>v</i><sub style="font-size:7px">vir,sat</sub></span>',12);
cell('tab2',1500,436,'<i>r</i><sub style="font-size:7px">apo</sub>/<i>r</i><sub style="font-size:7px">peri</sub><sup style="font-size:7px">a</sup>');
cell('tab2',1637,436,'inclinations',13,'r');
t2Rows.forEach((row,ri)=>row.forEach((v,ci)=>cell('tab2',t2ColX[ci],476+ri*15.3,v,13,ci===4?'r':'')));
[[1000,1545,197],[1000,1545,260],[1000,1545,330],[1275,1642,426],[1275,1642,474],[1275,1642,545]].forEach(([a,b,y])=>{
  const l=mk('line',{x1:a,x2:b,y1:y,y2:y,stroke:'#333','stroke-width':1});
  
  });
</script>
</body></html>
